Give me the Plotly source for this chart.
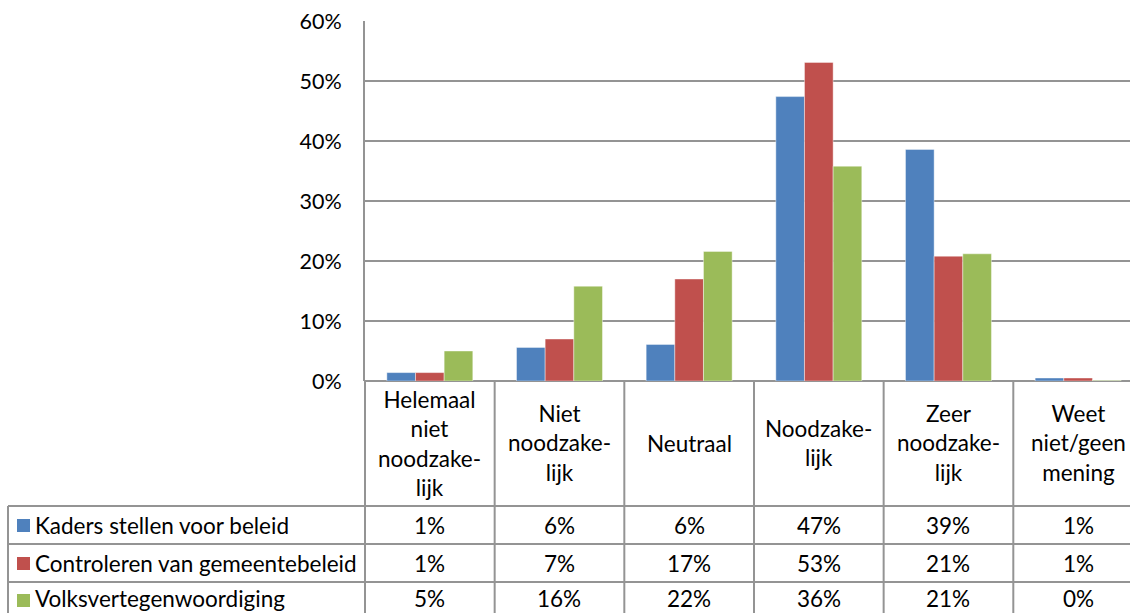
import plotly.graph_objects as go

# ---------------- data ----------------
categories = ["Helemaal niet noodzakelijk", "Niet noodzakelijk", "Neutraal",
              "Noodzakelijk", "Zeer noodzakelijk", "Weet niet/geen mening"]
category_labels = ["Helemaal<br>niet<br>noodzake-<br>lijk", "Niet<br>noodzake-<br>lijk", "Neutraal",
                   "Noodzake-<br>lijk", "Zeer<br>noodzake-<br>lijk", "Weet<br>niet/geen<br>mening"]
series_names = ["Kaders stellen voor beleid", "Controleren van gemeentebeleid", "Volksvertegenwoordiging"]
kaders = [1.4, 5.6, 6.1, 47.4, 38.6, 0.5]
controleren = [1.4, 7.0, 17.0, 53.1, 20.8, 0.5]
volks = [5.0, 15.8, 21.6, 35.8, 21.2, 0.1]
colors = ["#4F81BD", "#C0504D", "#9BBB59"]
y_ticks = [0, 10, 20, 30, 40, 50, 60]

series_values = [kaders, controleren, volks]

# ---------------- layout geometry (pixels) ----------------
W, H = 1130, 613
PL, PT, PB = 365, 21, 381          # plot left, top, bottom (pixels)
PR = W
FONT = "Lato, Calibri, sans-serif"
FS = 22.5
TFS = 21.5
LINE = "#949494"

def px2x(px):
    return (px - PL) / (PR - PL)

def px2y(py):
    return (PB - py) / (PB - PT)

x = list(range(len(categories)))
fig = go.Figure()
for name, vals, col in zip(series_names, series_values, colors):
    fig.add_trace(go.Bar(x=x, y=vals, name=name,
                         marker=dict(color=col, line=dict(width=0.6, color="rgba(255,255,255,0.7)")),
                         showlegend=False, hoverinfo="skip"))

shapes = []
annotations = []

# column separators in table (header + rows)
for k in range(1, len(categories)):
    shapes.append(dict(type="line", xref="x", yref="paper", x0=k - 0.5, x1=k - 0.5,
                       y0=0, y1=px2y(H + 5), line=dict(color=LINE, width=2)))
# left edge of value columns (axis extension)
shapes.append(dict(type="line", xref="paper", yref="paper", x0=0, x1=0,
                   y0=0, y1=px2y(H + 5), line=dict(color=LINE, width=2)))
# legend column left border
shapes.append(dict(type="line", xref="paper", yref="paper", x0=px2x(8), x1=px2x(8),
                   y0=px2y(506), y1=px2y(H + 5), line=dict(color=LINE, width=2)))
# horizontal row separators
row_tops = [506, 544, 582]
for ry in row_tops:
    shapes.append(dict(type="line", xref="paper", yref="paper", x0=px2x(8), x1=1.0,
                       y0=px2y(ry), y1=px2y(ry), line=dict(color=LINE, width=2)))

# header labels
for k, lab in enumerate(category_labels):
    annotations.append(dict(x=k, y=px2y(443), xref="x", yref="paper", text=lab, showarrow=False,
                            xanchor="center", yanchor="middle", align="center",
                            font=dict(family=FONT, size=FS, color="#000000")))

# rows (text centres in pixels; last row sits against the cut-off bottom edge)
row_centres = [525, 563, 598]
for i, (name, vals, col) in enumerate(zip(series_names, series_values, colors)):
    cy = row_centres[i]
    sq = cy + 2 if i == 2 else cy
    shapes.append(dict(type="rect", xref="paper", yref="paper", x0=px2x(17), x1=px2x(30),
                       y0=px2y(sq - 6), y1=px2y(sq + 7), fillcolor=col, line=dict(width=0)))
    annotations.append(dict(x=px2x(33), y=px2y(cy), xref="paper", yref="paper", text=name, showarrow=False,
                            xanchor="left", yanchor="middle",
                            font=dict(family=FONT, size=FS, color="#000000")))
    for k, v in enumerate(vals):
        annotations.append(dict(x=k, y=px2y(cy), xref="x", yref="paper", text=f"{int(v + 0.5)}%",
                                showarrow=False, xanchor="center", yanchor="middle",
                                font=dict(family=FONT, size=FS, color="#000000")))

col_px = 129.66
fig.update_layout(
    width=W, height=H,
    margin=dict(l=PL, r=0, t=PT, b=H - PB, pad=0),
    paper_bgcolor="white", plot_bgcolor="white",
    barmode="group", bargap=0.337, bargroupgap=0,
    xaxis=dict(range=[-0.5, -0.5 + (PR - PL) / col_px], showticklabels=False, showgrid=False,
               zeroline=False, showline=False, ticks="", fixedrange=True),
    yaxis=dict(range=[0, 60], tickvals=y_ticks, ticktext=[f"{t}%" for t in y_ticks],
               showgrid=True, gridcolor=LINE, gridwidth=2, zeroline=True, zerolinecolor=LINE,
               zerolinewidth=2, showline=True, linecolor=LINE, linewidth=2, ticks="",
               ticklabelstandoff=17, tickfont=dict(family=FONT, size=TFS, color="#000000"),
               fixedrange=True),
    shapes=shapes,
    annotations=annotations,
    font=dict(family=FONT, size=FS),
)

fig.write_html("out.html", config={"displayModeBar": False},
               post_script="document.body.style.margin='0';document.body.style.overflow='hidden';")
